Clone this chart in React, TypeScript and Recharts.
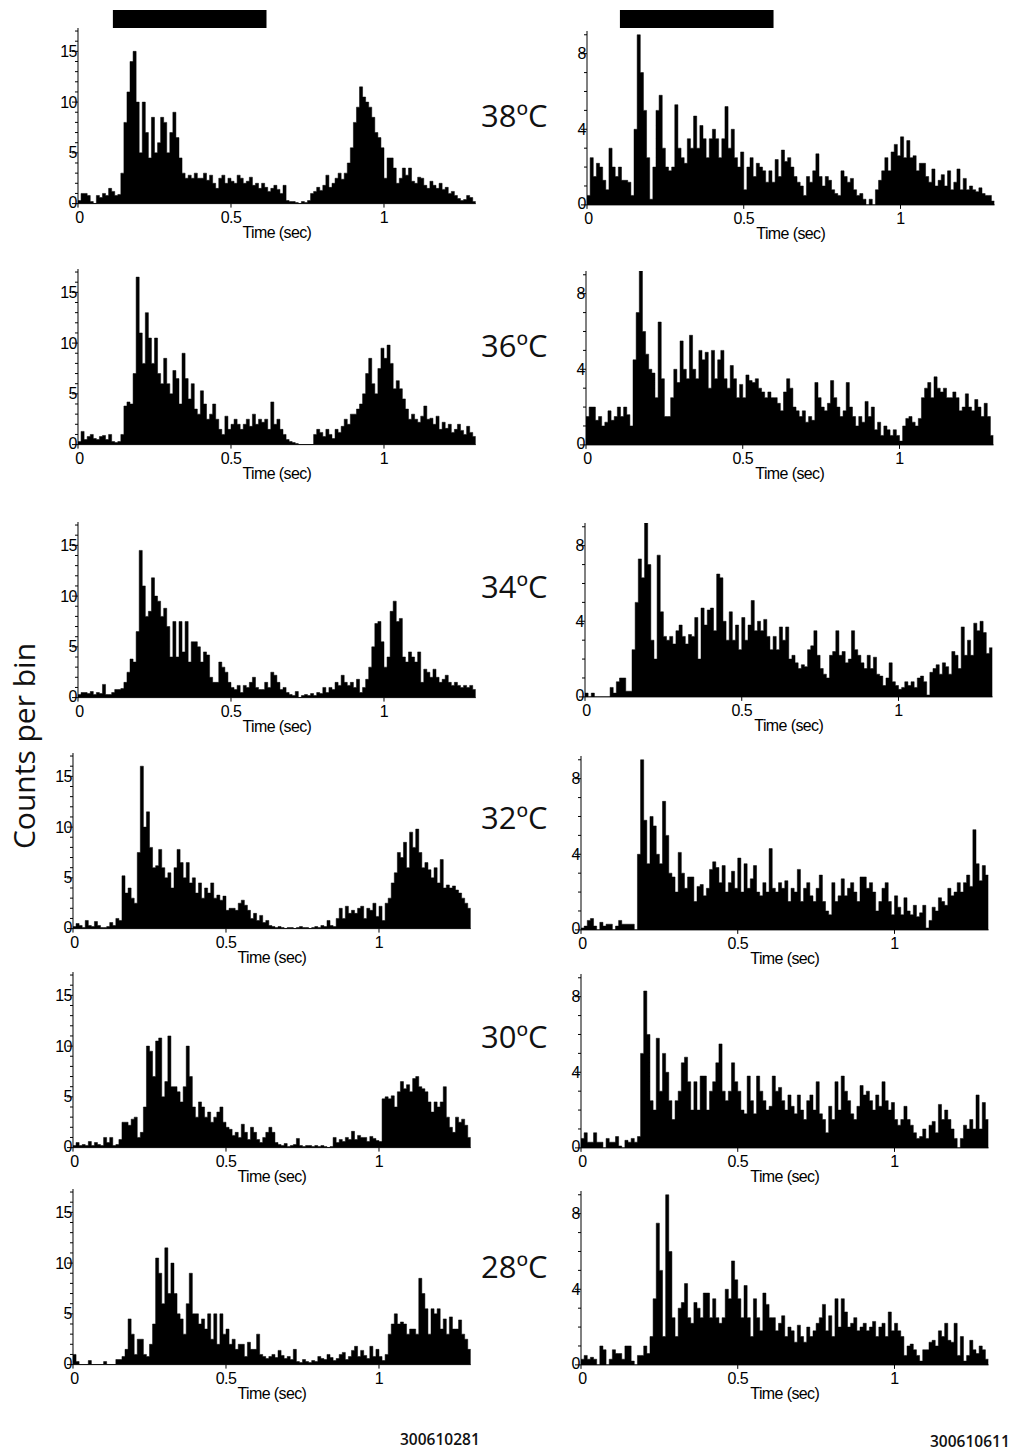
import React from "react";
import { AreaChart, Area, XAxis, YAxis } from "recharts";

// PSTH, 10 ms bins, 0 - 1.3 s
const BIN_SEC = 0.01;
const TEMPS = ["38ºC", "36ºC", "34ºC", "32ºC", "30ºC", "28ºC"];
const X_TICKS = [0, 0.5, 1];
const LEFT_Y_MAJOR = [0, 5, 10, 15];
const RIGHT_Y_MAJOR = [0, 4, 8];
const UNIT_LEFT = "300610281";
const UNIT_RIGHT = "300610611";
const STIM_LEFT = [0.114, 0.616];
const STIM_RIGHT = [0.105, 0.595];

const left38 = [
  0.3, 1, 1, 0.8, 0.2, 0, 0.8, 0.6, 1, 0.8,
  1.5, 1.2, 0.8, 0.9, 3, 8, 11, 14, 15, 10,
  5, 10, 7, 4.5, 8.5, 5, 6, 8.5, 8, 5,
  7, 9, 6.5, 4.5, 3, 2.5, 2.8, 2.5, 3, 2.5,
  2.5, 3, 2.3, 2.8, 2, 1.5, 2.5, 2.8, 2, 2.5,
  2.2, 2, 2.8, 2.5, 2, 2.2, 2.6, 1.8, 2, 1.5,
  2, 1.6, 1.2, 1.5, 1.8, 1.4, 1, 1.8, 0.3, 0.2,
  0.2, 0.1, 0, 0.2, 0.1, 0.3, 1, 1.2, 1.6, 1.3,
  1.8, 2.8, 1.6, 2, 2.5, 3, 2.4, 3, 4, 5.5,
  8, 9.5, 11.5, 10.5, 10, 9.5, 8.5, 7, 6.5, 5.5,
  2.5, 4.5, 4.5, 3.5, 2, 2.5, 3.5, 2.8, 3.5, 2.2,
  2, 2.6, 2.5, 1.8, 1.5, 2.2, 1.8, 1.5, 2, 1.4,
  1.6, 1, 1.2, 0.8, 0.5, 0.3, 0.4, 0.8, 0.6, 0.2,
];
const left36 = [
  0.3, 1.3, 0.5, 0.8, 1, 0.6, 0.5, 0.8, 0.9, 0.5,
  1, 0.3, 0.2, 0.3, 1, 3.8, 4.2, 4, 7, 16.5,
  11, 8, 13, 10.5, 8, 10.5, 7, 6, 8.5, 6,
  5, 7.3, 6.5, 4, 9, 6.5, 4.5, 6, 3.5, 3,
  5.3, 4, 2.5, 3, 4, 2.5, 1.5, 1, 2.8, 1.5,
  2, 2.5, 2, 1.5, 2, 2.5, 1.8, 3, 2, 2.5,
  2.2, 2.5, 1.5, 4.2, 2, 2.5, 1.5, 1, 0.5, 0.3,
  0.2, 0.1, 0, 0, 0, 0, 0, 1, 1.5, 1.2,
  0.8, 1.5, 1, 0.6, 1.5, 1.2, 1.8, 2.5, 2, 3,
  3, 3.5, 4, 5, 7, 8.5, 6, 5, 7.5, 9.5,
  8.5, 9.8, 8, 5.5, 6.3, 5.5, 4.5, 3.5, 2.5, 3,
  2.5, 2.2, 2.8, 3.8, 2.5, 2.6, 2, 2.8, 1.5, 2.2,
  1.6, 2, 1.2, 1.5, 2, 1.4, 1, 1.8, 1.2, 0.8,
];
const left34 = [
  0.3, 0.5, 0.5, 0.4, 0.6, 0.3, 0.5, 0.4, 1.3, 0.3,
  0.3, 0.5, 0.8, 0.8, 0.9, 1.5, 2.5, 3.8, 3.5, 6.5,
  14.5, 11, 8, 8.5, 11.8, 10, 9.5, 8, 8.8, 7,
  4, 7.5, 4, 7.5, 4.5, 7.5, 3.5, 5.5, 5.5, 5,
  3.5, 4.5, 4.2, 2, 1.5, 1.5, 3.5, 3, 2.5, 1.5,
  1, 0.8, 1.2, 0.5, 1.2, 1, 1.5, 2, 1, 0.8,
  0.8, 1.5, 1, 2.5, 2.2, 1.5, 0.8, 1, 0.5, 0.3,
  0.2, 0.6, 0, 0.2, 0.3, 0.2, 0.4, 0.2, 0.5, 0.4,
  1, 0.5, 1, 0.8, 1.5, 1.2, 2.2, 1.5, 1.2, 1.5,
  1, 1.8, 0.5, 1, 1.8, 3, 5, 7.3, 7.5, 5.5,
  3, 4, 8.5, 9.5, 7.5, 7.8, 4, 3.5, 4.5, 4,
  3.5, 4.5, 1.5, 2.8, 2.5, 2, 2.8, 2, 1.5, 1.8,
  2.2, 1.5, 1.2, 1.5, 1.2, 1, 1.2, 1, 1.2, 0.8,
];
const left32 = [
  0.2, 0.5, 0.3, 0.1, 0.8, 0.3, 0.2, 0.7, 0.3, 0.1,
  0.1, 0.2, 0.6, 0.3, 1, 0.8, 5.2, 3.5, 4, 3,
  2.5, 7.5, 16, 10, 11.5, 8, 6, 6.2, 7.8, 6,
  5, 5.5, 4, 6, 7.8, 6.5, 5, 6.5, 4.5, 5,
  3.5, 4.5, 3, 4, 3.5, 4.5, 3, 3.3, 2.8, 3.2,
  1.8, 2, 2, 1.8, 2.5, 2.8, 2.3, 1.8, 1, 1.5,
  0.8, 1.3, 0.6, 0.8, 0.3, 0.2, 0.1, 0.2, 0.1, 0,
  0.1, 0.1, 0, 0.1, 0.2, 0.1, 0.1, 0, 0.1, 0.2,
  0.1, 0.3, 0.2, 0.8, 0.3, 0.2, 1, 2, 1, 2.2,
  1.5, 1.8, 1.5, 2, 2.2, 1, 2, 1.8, 2.5, 1.2,
  2.2, 0.8, 2.5, 3, 4.5, 5.5, 7.5, 7, 8.5, 6,
  9.5, 8, 9.8, 7.5, 6, 6.5, 5.8, 5, 6, 4.5,
  6.8, 4, 4.3, 4, 4.2, 3.8, 3.5, 3, 2.5, 2,
];
const left30 = [
  0.2, 0.5, 0.2, 0.3, 0.2, 0.6, 0.2, 0.5, 0.3, 0.2,
  1, 0.5, 1, 0.2, 0.3, 0.8, 2.5, 2.5, 2.2, 2.8,
  3, 1, 1.5, 4, 10, 9.5, 7, 10.5, 10.8, 5,
  6.5, 11, 6, 6, 5.5, 4.5, 6, 10, 7, 4,
  3, 4.5, 4, 3, 3.5, 2.5, 3, 3.5, 4, 2.5,
  2, 1.8, 1.2, 1.5, 1, 2.3, 1.5, 0.8, 2, 1.5,
  0.8, 0.5, 1, 1.5, 2, 1.5, 0.5, 0.3, 0.2, 0.4,
  0.1, 0.2, 0.3, 0.9, 0.2, 0.1, 0.2, 0.2, 0.1, 0.2,
  0.1, 0.2, 0.1, 0, 0.1, 1, 0.5, 0.8, 0.6, 1,
  0.8, 1.6, 0.8, 1.2, 1, 1, 0.6, 1.1, 0.9, 0.7,
  0.6, 4.8, 5, 4.8, 5.1, 4, 5.5, 6.5, 5.8, 6.2,
  5.5, 6.8, 7, 6, 5.8, 5.5, 4.5, 3.5, 4.5, 4,
  4.5, 6, 3, 2, 1.5, 3, 2.5, 2.8, 2.2, 1,
];
const left28 = [
  1, 0.3, 0, 0, 0, 0.4, 0, 0, 0, 0,
  0.3, 0, 0, 0, 0.5, 0.5, 0.8, 1.5, 4.5, 3,
  1, 2.5, 2.5, 1, 0.8, 2, 4, 10.5, 9, 6,
  11.5, 7, 10, 7, 5, 4.5, 3, 6, 9, 5,
  5, 4, 4.5, 3.5, 5, 2.5, 5, 2, 5, 3,
  3.5, 2, 2.5, 1.5, 2, 2, 0.8, 2.2, 1.5, 1.5,
  3, 1, 0.8, 0.6, 0.8, 1, 0.7, 1.4, 0.9, 0.6,
  0.8, 0.5, 1.5, 0.3, 0.2, 0.5, 0.3, 0.2, 0.4, 0.3,
  0.8, 0.6, 0.5, 1, 0.7, 0.4, 0.6, 1, 1.2, 0.5,
  0.8, 1.4, 1.8, 0.8, 1.4, 0.9, 0.6, 1.8, 0.8, 1.5,
  0.8, 0.4, 1, 3, 4, 5, 4, 4.2, 4, 3,
  3.5, 3.5, 3, 8.5, 7, 5.5, 3, 5.5, 5, 5.5,
  3.5, 4.5, 3, 4.7, 3.5, 3.5, 4.4, 3, 2.5, 1.5,
];

const right38 = [
  0.5, 2.5, 1.5, 2.2, 2, 1.3, 0.8, 3, 2, 1.5,
  2, 1.3, 1.3, 1.2, 0.5, 4, 9, 7, 5, 2.5,
  0.3, 2, 5, 5.8, 3, 2, 1.8, 2, 5.3, 3,
  2.5, 2.2, 3.5, 3, 4.7, 3, 4.2, 3.5, 2.5, 3.5,
  4, 3.5, 2.5, 3.5, 5.2, 3, 4, 2.5, 2, 2.8,
  0.8, 2, 2.5, 1.5, 2.2, 2, 1.8, 1.2, 1.8, 1.2,
  2.4, 1.5, 2.9, 2.3, 2.5, 2, 1.5, 1.2, 1, 0.5,
  1.5, 1.2, 1.8, 2.7, 1.5, 1, 1.5, 1.3, 0.8, 0.6,
  0.5, 1.8, 1.5, 1.2, 1.4, 0.8, 0.5, 0.6, 0.3, 0,
  0.3, 0, 0.8, 1.3, 1.8, 2.5, 1.8, 2.8, 3.2, 2.6,
  3.6, 2.5, 3.4, 2.5, 2.6, 1.8, 2.2, 2.2, 1.5, 1.2,
  1.9, 1, 1.3, 1.6, 1, 1.8, 0.8, 1.2, 1.9, 0.8,
  1.4, 0.8, 1, 0.8, 0.7, 0.9, 0.6, 0.5, 0.5, 0.2,
];
const right36 = [
  1.5, 2, 2, 1.3, 1.5, 1, 1.2, 1.8, 1.3, 1.5,
  2, 1.5, 2, 1.6, 1, 4.5, 7, 9.2, 6, 4.8,
  4, 3.8, 2.5, 6.5, 3.5, 1.5, 1.5, 2.5, 4, 3.3,
  5.5, 4, 3.5, 5.8, 4, 3.5, 5, 4.5, 4.9, 3,
  5, 3.5, 4.5, 5, 3.5, 3, 4.2, 3.5, 2.5, 3.2,
  2.5, 3.7, 3.4, 3.3, 3.5, 3, 2.8, 2.5, 2.8, 2.5,
  2.5, 2.2, 1.8, 2.8, 3.5, 3, 2, 1.8, 1.5, 1.8,
  1.2, 1.5, 1.3, 3.3, 2.5, 2, 1.8, 2.2, 3.4, 2.5,
  2, 1.5, 1.8, 3.3, 2, 1.5, 1, 1.5, 1.2, 2.3,
  1.5, 2, 0.8, 1.2, 0.5, 1, 0.8, 0.5, 0.8, 0.5,
  0.2, 1, 1.4, 1.5, 1.2, 1, 1.4, 2.5, 3, 3.3,
  2.5, 3.6, 3, 2.8, 3, 2.5, 2.5, 2.8, 2.5, 1.8,
  2, 2.7, 2, 1.8, 2.4, 2, 1.5, 2.2, 1.5, 0.5,
];
const right34 = [
  0.2, 0, 0.2, 0, 0, 0, 0, 0, 0.5, 0.2,
  0.8, 1, 1, 0.3, 0.3, 2.5, 5, 7.3, 6.3, 9.2,
  7, 3, 2, 7.5, 4.5, 3.2, 3, 3.2, 2.8, 3.5,
  3.8, 3.2, 2.8, 3.3, 3.2, 4.2, 2, 4.7, 3.8, 4.6,
  4.7, 3.5, 6.5, 6.3, 4, 3, 4.5, 3, 3.8, 2.5,
  4.2, 3, 3.8, 5.1, 3.5, 4, 3.5, 4.1, 3.2, 2.5,
  3.2, 2.5, 3.7, 3, 3.7, 2, 2.2, 1.8, 1.5, 1.7,
  1.6, 2.5, 2.7, 3.5, 2.2, 1.5, 1.2, 1, 2.2, 2.4,
  3.5, 2.2, 2.4, 1.8, 2, 3.5, 2.5, 2.2, 1.8, 1.5,
  2.2, 1.5, 2.1, 1.2, 1.1, 0.6, 1, 1.8, 0.8, 0.6,
  0.4, 0.5, 0.8, 0.6, 0.8, 0.5, 1, 1.1, 0.8, 0.1,
  1.3, 1.5, 1.7, 1.2, 1.8, 1.6, 1.2, 2.4, 2.2, 1.5,
  3.7, 2.2, 3, 2.2, 3.9, 3.5, 4, 3.4, 2.3, 2.6,
];
const right32 = [
  0.1, 0.2, 0.5, 0.6, 0.2, 0, 0.4, 0.2, 0.3, 0.3,
  0, 0.2, 0.5, 0.3, 0.3, 0.3, 0.3, 0, 4, 9,
  5.8, 3.5, 6, 5.5, 4, 3.5, 6.8, 5, 3, 2.8,
  2, 4.1, 3, 2.2, 2.8, 2.8, 1.5, 2.3, 2.4, 1.8,
  2.2, 3.2, 3.6, 3.3, 2.5, 3.4, 2, 2.5, 3.1, 2.2,
  3.8, 2, 3.5, 2.2, 2.7, 3.4, 2, 1.8, 2.5, 2,
  4.3, 2.2, 2, 2.5, 2.2, 2.6, 1.5, 2.2, 2, 3.2,
  1.5, 2.2, 2.5, 1.8, 1.5, 2.2, 2.9, 1.5, 1, 0.8,
  2.5, 1.5, 1.8, 2.7, 1.8, 2.2, 2.5, 2, 1.5, 2.8,
  2.8, 2.2, 2.5, 2, 1, 1.5, 2.2, 2.5, 1.5, 0.8,
  1.8, 1.2, 0.8, 1.7, 1, 0.8, 1.3, 0.7, 0.9, 1.3,
  0.1, 0.5, 1.2, 1, 1.7, 1.5, 1.3, 2.2, 1.8, 2,
  2.5, 2, 2.5, 2.9, 2.3, 5.3, 3.5, 2.6, 3.4, 2.9,
];
const right30 = [
  0.5, 0.8, 0.3, 0.3, 0.8, 0.3, 0.3, 0, 0.5, 0.3,
  0.3, 0.6, 0.1, 0, 0.4, 0.3, 0.5, 0.3, 0.6, 5,
  8.3, 6, 2.5, 2, 5.8, 3, 5, 4, 2.5, 1.5,
  2.5, 3, 4.5, 4.8, 3.5, 2, 3.5, 2, 3.8, 3.8,
  2, 3, 3.5, 4.5, 5.5, 3, 2.5, 3, 4.5, 3.5,
  3, 2, 1.8, 3.8, 2.5, 1.8, 3.8, 3, 2.5, 2,
  2.2, 3.8, 3, 3.2, 2.5, 2, 2.8, 2.2, 1.8, 2.8,
  2, 1.5, 2.5, 2.8, 2, 3.5, 1.8, 1.5, 0.8, 2.2,
  1.5, 3.5, 2, 3.8, 3, 2.5, 1.8, 1.5, 2.2, 3.3,
  2.8, 3, 2.5, 2, 2.8, 2.2, 3.5, 2.5, 2, 2.4,
  1.5, 1.2, 1.5, 2.2, 1.5, 1.2, 0.8, 0.5, 0.6, 1,
  0.5, 1.2, 1.4, 0.8, 2.3, 1.5, 2, 1.5, 1, 0.5,
  0, 0.5, 1.2, 1, 1.5, 1, 2.8, 1, 2.4, 1.5,
];
const right28 = [
  0.3, 0.5, 0.3, 0.4, 0.3, 0, 1, 0.8, 0, 0.3,
  0.8, 0.6, 0.6, 0.3, 1, 1, 0.2, 0, 0.5, 0.5,
  1, 0.6, 1.5, 3.5, 7.5, 5, 1.5, 9, 6, 2.5,
  1.5, 3, 3.3, 4.3, 2.5, 2.2, 3.3, 3, 2.5, 3.8,
  3.8, 2.5, 3.5, 2.5, 2.2, 2.5, 4, 3.5, 5.5, 4.5,
  3.5, 2.5, 4.2, 2.5, 1.5, 3.5, 2.5, 1.8, 3.8, 3.2,
  2.5, 2.5, 1.8, 2.2, 2.6, 1.5, 2, 1.8, 1.2, 2.1,
  1.5, 1.2, 2, 1.5, 1.8, 2.2, 2.5, 3.2, 1.8, 2.6,
  1.5, 3.5, 2, 3.5, 2.8, 2, 2.2, 2.5, 1.8, 2,
  2.2, 1.8, 2, 2.3, 1.5, 2, 2.2, 1.5, 2.8, 1.8,
  2.2, 1.8, 1.5, 0.5, 1, 1.1, 0.8, 0.5, 0.2, 0.8,
  0.8, 1.2, 1.3, 1, 1.8, 1.5, 2.2, 1.3, 1.2, 2.2,
  0.5, 1.5, 0.2, 0.5, 1.3, 0.8, 0.6, 1, 0.8, 0.3,
];

const LEFT_SERIES = [left38, left36, left34, left32, left30, left28];
const RIGHT_SERIES = [right38, right36, right34, right32, right30, right28];

// layout (px)
const LEFT_X0 = [78, 78, 78, 73, 73, 73];
const LEFT_Y0 = [204, 445, 698, 929, 1148, 1365];
const RIGHT_X0 = [587, 586, 585, 581, 581, 581];
const RIGHT_Y0 = [205, 445, 697, 930, 1148, 1365];
const TEMP_BASE = [127, 357, 598, 829, 1048, 1278];

const LEFT = { pxPerSec: 306, pxPerUnit: 10.15, yMax: 17.3, majors: LEFT_Y_MAJOR };
const RIGHT = { pxPerSec: 313.5, pxPerUnit: 18.9, yMax: 9.2, majors: RIGHT_Y_MAJOR };
const T_END = 1.3;
const YW = 40;
const MT = 4;
const MR = 6;
const XH = 46;
const FONT = "'Liberation Sans', Arial, sans-serif";

const toRows = (counts: number[]) => {
  const rows = counts.map((c, i) => ({ t: +(i * BIN_SEC).toFixed(3), c }));
  rows.push({ t: +(counts.length * BIN_SEC).toFixed(3), c: counts[counts.length - 1] });
  return rows;
};

const Panel = ({ counts, x0, y0, scale }) => {
  const plotW = T_END * scale.pxPerSec;
  const plotH = scale.yMax * scale.pxPerUnit;
  const width = YW + plotW + MR;
  const height = MT + plotH + XH;
  const minor = Array.from({ length: Math.floor(scale.yMax) + 1 }, (_, i) => i);

  const yTick = (p: any) => {
    const v = p.payload.value;
    const major = scale.majors.includes(v);
    return (
      <g>
        <line x1={p.x - (major ? 6 : 3)} x2={p.x} y1={p.y} y2={p.y} stroke="#000" strokeWidth={1} />
        {major && (
          <text
            x={p.x - 1}
            y={v === 0 ? p.y + 4 : p.y + 5.5}
            textAnchor="end"
            fontSize={16}
            fill="#000"
            fontFamily={FONT}
            letterSpacing={-0.5}
          >
            {v}
          </text>
        )}
      </g>
    );
  };

  const xTick = (p: any) => (
    <g>
      <line x1={p.x} x2={p.x} y1={p.y} y2={p.y + 4} stroke="#000" strokeWidth={1} />
      <text
        x={p.payload.value === 0 ? p.x + 1.5 : p.x}
        y={p.y + 19}
        textAnchor="middle"
        fontSize={16}
        fill="#000"
        fontFamily={FONT}
        letterSpacing={-0.5}
      >
        {p.payload.value}
      </text>
    </g>
  );

  const timeLabel = (p: any) => {
    const vb = p.viewBox;
    return (
      <text
        x={vb.x + vb.width / 2}
        y={vb.y + 34.5}
        textAnchor="middle"
        fontSize={16}
        fill="#000"
        fontFamily={FONT}
        letterSpacing={-0.6}
      >
        Time (sec)
      </text>
    );
  };

  return (
    <div style={{ position: "absolute", left: x0 - YW, top: y0 - plotH - MT }}>
      <AreaChart width={width} height={height} data={toRows(counts)} margin={{ top: MT, right: MR, left: 0, bottom: 0 }}>
        <XAxis
          dataKey="t"
          type="number"
          domain={[0, T_END]}
          ticks={X_TICKS}
          interval={0}
          height={XH}
          tickSize={0}
          tickMargin={0}
          tickLine={false}
          axisLine={{ stroke: "#000", strokeWidth: 1 }}
          tick={xTick}
          label={timeLabel}
          allowDataOverflow
        />
        <YAxis
          type="number"
          domain={[0, scale.yMax]}
          ticks={minor}
          interval={0}
          width={YW}
          tickSize={0}
          tickMargin={0}
          tickLine={false}
          axisLine={{ stroke: "#000", strokeWidth: 1 }}
          tick={yTick}
          allowDataOverflow
        />
        <Area
          type="stepAfter"
          dataKey="c"
          fill="#000"
          fillOpacity={1}
          stroke="#000"
          strokeWidth={0.5}
          isAnimationActive={false}
          dot={false}
          activeDot={false}
        />
      </AreaChart>
    </div>
  );
};

export default function App() {
  return (
    <div
      style={{
        position: "absolute",
        left: 0,
        top: 0,
        width: 1016,
        height: 1452,
        background: "#fff",
        overflow: "hidden",
        fontFamily: FONT,
      }}
    >
      {LEFT_SERIES.map((s, i) => (
        <Panel key={`l${i}`} counts={s} x0={LEFT_X0[i]} y0={LEFT_Y0[i]} scale={LEFT} />
      ))}
      {RIGHT_SERIES.map((s, i) => (
        <Panel key={`r${i}`} counts={s} x0={RIGHT_X0[i]} y0={RIGHT_Y0[i]} scale={RIGHT} />
      ))}
      <svg width={1016} height={1452} style={{ position: "absolute", left: 0, top: 0, pointerEvents: "none" }}>
        {/* stimulus bars */}
        <rect
          x={LEFT_X0[0] + STIM_LEFT[0] * LEFT.pxPerSec}
          y={10}
          width={(STIM_LEFT[1] - STIM_LEFT[0]) * LEFT.pxPerSec}
          height={18}
          fill="#000"
        />
        <rect
          x={RIGHT_X0[0] + STIM_RIGHT[0] * RIGHT.pxPerSec}
          y={10}
          width={(STIM_RIGHT[1] - STIM_RIGHT[0]) * RIGHT.pxPerSec}
          height={18}
          fill="#000"
        />
        {TEMPS.map((t, i) => (
          <text key={t} x={481} y={TEMP_BASE[i]} fontSize={31} fill="#111" fontFamily="'Open Sans', sans-serif">
            {t}
          </text>
        ))}
        <text
          transform="translate(35, 746) rotate(-90)"
          textAnchor="middle"
          fontSize={30}
          fill="#111"
          fontFamily="'Open Sans', sans-serif"
        >
          Counts per bin
        </text>
        <text x={400} y={1445} fontSize={15.5} fontWeight={600} fill="#111" fontFamily="'Open Sans', sans-serif">
          {UNIT_LEFT}
        </text>
        <text x={930} y={1447} fontSize={15.5} fontWeight={600} fill="#111" fontFamily="'Open Sans', sans-serif">
          {UNIT_RIGHT}
        </text>
      </svg>
    </div>
  );
}
